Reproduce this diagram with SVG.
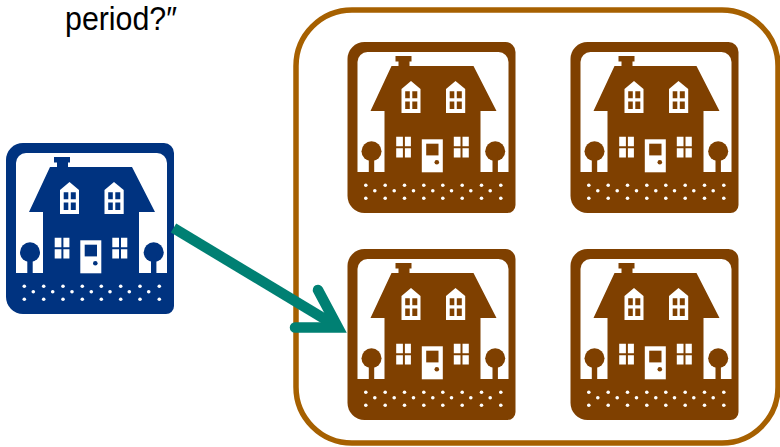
<svg xmlns="http://www.w3.org/2000/svg" xmlns:xlink="http://www.w3.org/1999/xlink" width="780" height="447" viewBox="0 0 780 447">
  <style>
    .ink { fill: currentColor; }
    .paper { fill: #fff; }
    .blue { color: #003380; }
    .brown { color: #7f4000; }
    .label { font-family: "Liberation Sans", Arial, sans-serif; font-size: 33px; fill: #000; }
  </style>
  <defs>
    <symbol id="house" width="170" height="172" viewBox="0 0 170 172" overflow="visible">
      <path class="ink" d="M17 0H158A10 10 0 0 1 168 10V163A8 8 0 0 1 160 171H17A17 17 0 0 1 0 154V17A17 17 0 0 1 17 0Z"/>
      <path class="paper" d="M20 10H151A10 10 0 0 1 161 20V130H10V20A10 10 0 0 1 20 10Z"/>
      <g class="ink">
        <rect x="48" y="14" width="16" height="5.500"/>
        <rect x="51" y="18" width="11" height="8"/>
        <path d="M44 24H126L149 69H133V131H37V69H23Z"/>
        <circle cx="24" cy="109.300" r="10"/>
        <rect x="21.300" y="112" width="5.400" height="19"/>
        <circle cx="147.700" cy="109.300" r="10"/>
        <rect x="145" y="112" width="5.400" height="19"/>
      </g>
      <g class="paper">
        <path d="M54 71V47L63.500 39L73 47V71Z"/>
        <path d="M98.500 71V47L108 39L117.700 47V71Z"/>
        <path d="M48.700 94.700h6.700v9.500h-6.700zM57.400 94.700h6v9.500h-6zM48.700 106.200h6.700v9.200h-6.700zM57.400 106.200h6v9.200h-6z"/>
        <path d="M106.300 94.700h6.700v9.500h-6.700zM115 94.700h6.300v9.500h-6.300zM106.300 106.200h6.700v9.200h-6.700zM115 106.200h6.300v9.200h-6.300z"/>
        <rect x="74.300" y="97.300" width="21" height="33"/>
      </g>
      <g class="ink">
        <path d="M57.700 49.300h4.600v7h-4.600zM64.800 49.300h5v7h-5zM57.700 59.600h4.600v7.400h-4.600zM64.800 59.600h5v7.400h-5z"/>
        <path d="M102.200 49.300h4.600v7h-4.600zM109.300 49.300h5v7h-5zM102.200 59.600h4.600v7.400h-4.600zM109.300 59.600h5v7.400h-5z"/>
        <rect x="78.700" y="101.700" width="12.300" height="11.700"/>
        <circle cx="89.300" cy="120.300" r="2.300"/>
      </g>
      <g class="paper">
        <circle cx="18.300" cy="143.300" r="1.800"/><circle cx="37.700" cy="143.300" r="1.800"/><circle cx="57" cy="143.300" r="1.800"/><circle cx="76.300" cy="143.300" r="1.800"/><circle cx="95.300" cy="143.300" r="1.800"/><circle cx="114.700" cy="143.300" r="1.800"/><circle cx="134" cy="143.300" r="1.800"/><circle cx="153.300" cy="143.300" r="1.800"/>
        <circle cx="27.300" cy="148.700" r="1.800"/><circle cx="46.700" cy="148.700" r="1.800"/><circle cx="66" cy="148.700" r="1.800"/><circle cx="85.300" cy="148.700" r="1.800"/><circle cx="104" cy="148.700" r="1.800"/><circle cx="123.300" cy="148.700" r="1.800"/><circle cx="142.700" cy="148.700" r="1.800"/>
        <circle cx="18.300" cy="156.300" r="1.800"/><circle cx="37.700" cy="156.300" r="1.800"/><circle cx="57" cy="156.300" r="1.800"/><circle cx="76.300" cy="156.300" r="1.800"/><circle cx="95.300" cy="156.300" r="1.800"/><circle cx="114.700" cy="156.300" r="1.800"/><circle cx="134" cy="156.300" r="1.800"/><circle cx="153.300" cy="156.300" r="1.800"/>
      </g>
    </symbol>
  </defs>
  <rect width="780" height="447" fill="#fff"/>
  <g id="caption"><text class="label" x="65" y="30" textLength="112" lengthAdjust="spacingAndGlyphs">period?″</text></g>
  <g id="group-frame"><rect x="296" y="10" width="482" height="433" rx="56" ry="56" fill="none" stroke="#a66000" stroke-width="5.500"/></g>
  <g id="source-house" class="blue"><use href="#house" xlink:href="#house" x="6" y="143"/></g>
  <g id="house-top-left" class="brown"><use href="#house" xlink:href="#house" x="347.500" y="42"/></g>
  <g id="house-top-right" class="brown"><use href="#house" xlink:href="#house" x="570.500" y="42"/></g>
  <g id="house-bottom-left" class="brown"><use href="#house" xlink:href="#house" x="347.500" y="249"/></g>
  <g id="house-bottom-right" class="brown"><use href="#house" xlink:href="#house" x="570.500" y="249"/></g>
  <g id="connectors" fill="none" stroke="#008073" stroke-width="10.500">
    <line x1="173.500" y1="228" x2="338" y2="327"/>
    <polyline points="318,290 338,327.500 295,327.500" stroke-linecap="round" stroke-linejoin="miter" stroke-miterlimit="6"/>
  </g>
</svg>
